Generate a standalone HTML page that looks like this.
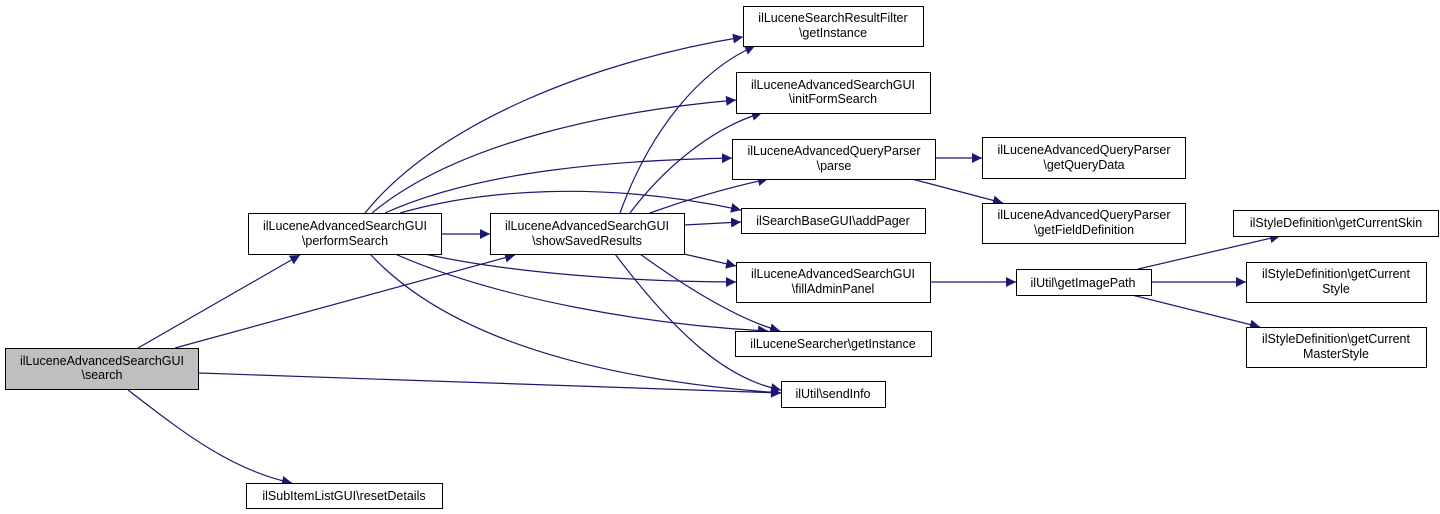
<!DOCTYPE html>
<html><head><meta charset="utf-8"><style>
body{margin:0;background:#fff;width:1440px;height:514px;overflow:hidden}
svg{position:absolute;left:0;top:0}
text{font-family:"Liberation Sans",sans-serif;font-size:12.5px;fill:#000}
</style></head><body>
<svg width="1440" height="514" viewBox="0 0 1440 514">
<defs><marker id="a" viewBox="0 0 10 10" refX="10" refY="5" markerWidth="10" markerHeight="10" markerUnits="userSpaceOnUse" orient="auto"><path d="M0,0 L10,5 L0,10 z" fill="#191970"/></marker></defs>
<g fill="none" stroke="#191970" stroke-width="1.2" marker-end="url(#a)">
<path d="M138,348 L300,255"/>
<path d="M175,348 L515,255"/>
<path d="M199,373 L781,393"/>
<path d="M128,390 C180,430 230,470 292,483"/>
<path d="M441,234 L490,234"/>
<path d="M365,213 C440,120 600,60 743,37"/>
<path d="M372,213 C460,140 620,110 736,100"/>
<path d="M385,213 C480,170 620,160 732,158"/>
<path d="M400,213 C480,190 600,180 741,210"/>
<path d="M425,254 C520,275 650,282 736,282"/>
<path d="M395,254 C500,300 650,325 768,331"/>
<path d="M370,254 C450,340 600,380 781,393"/>
<path d="M620,213 C650,130 700,70 755,46"/>
<path d="M630,213 C670,160 720,125 762,113"/>
<path d="M650,213 C700,195 740,185 768,179"/>
<path d="M684,225 L741,222"/>
<path d="M684,254 L736,266"/>
<path d="M640,254 C690,290 740,320 780,331"/>
<path d="M615,254 C680,340 730,380 781,390"/>
<path d="M935,158 L982,158"/>
<path d="M912,179 L1003,203"/>
<path d="M930,282 L1016,282"/>
<path d="M1138,269 L1280,236"/>
<path d="M1151,282 L1246,282"/>
<path d="M1132,295 L1260,327"/>
</g>
<g stroke="#000" stroke-width="1" fill="#fff">
<rect x="5.5" y="348.5" width="193" height="41" fill="#bfbfbf"/>
<rect x="248.5" y="213.5" width="193" height="41"/>
<rect x="490.5" y="213.5" width="194" height="41"/>
<rect x="246.5" y="483.5" width="196" height="25"/>
<rect x="743.5" y="6.5" width="180" height="40"/>
<rect x="736.5" y="72.5" width="194" height="41"/>
<rect x="732.5" y="139.5" width="203" height="40"/>
<rect x="741.5" y="208.5" width="184" height="25"/>
<rect x="736.5" y="262.5" width="194" height="40"/>
<rect x="735.5" y="331.5" width="196" height="25"/>
<rect x="781.5" y="381.5" width="104" height="26"/>
<rect x="982.5" y="137.5" width="203" height="41"/>
<rect x="982.5" y="203.5" width="203" height="40"/>
<rect x="1016.5" y="269.5" width="135" height="26"/>
<rect x="1233.5" y="210.5" width="205" height="26"/>
<rect x="1246.5" y="262.5" width="180" height="40"/>
<rect x="1246.5" y="327.5" width="180" height="40"/>
</g>
<g text-anchor="middle">
<text x="102" y="365">ilLuceneAdvancedSearchGUI</text><text x="102" y="379">\search</text>
<text x="345" y="230">ilLuceneAdvancedSearchGUI</text><text x="345" y="245">\performSearch</text>
<text x="587" y="230">ilLuceneAdvancedSearchGUI</text><text x="587" y="245">\showSavedResults</text>
<text x="344" y="500">ilSubItemListGUI\resetDetails</text>
<text x="833" y="22">ilLuceneSearchResultFilter</text><text x="833" y="37">\getInstance</text>
<text x="833" y="89">ilLuceneAdvancedSearchGUI</text><text x="833" y="103">\initFormSearch</text>
<text x="834" y="155">ilLuceneAdvancedQueryParser</text><text x="834" y="170">\parse</text>
<text x="833" y="225">ilSearchBaseGUI\addPager</text>
<text x="833" y="278">ilLuceneAdvancedSearchGUI</text><text x="833" y="293">\fillAdminPanel</text>
<text x="833" y="348">ilLuceneSearcher\getInstance</text>
<text x="833" y="398">ilUtil\sendInfo</text>
<text x="1084" y="154">ilLuceneAdvancedQueryParser</text><text x="1084" y="169">\getQueryData</text>
<text x="1084" y="219">ilLuceneAdvancedQueryParser</text><text x="1084" y="234">\getFieldDefinition</text>
<text x="1083" y="287">ilUtil\getImagePath</text>
<text x="1336" y="227">ilStyleDefinition\getCurrentSkin</text>
<text x="1336" y="278">ilStyleDefinition\getCurrent</text><text x="1336" y="293">Style</text>
<text x="1336" y="343">ilStyleDefinition\getCurrent</text><text x="1336" y="358">MasterStyle</text>
</g>
</svg>
</body></html>
